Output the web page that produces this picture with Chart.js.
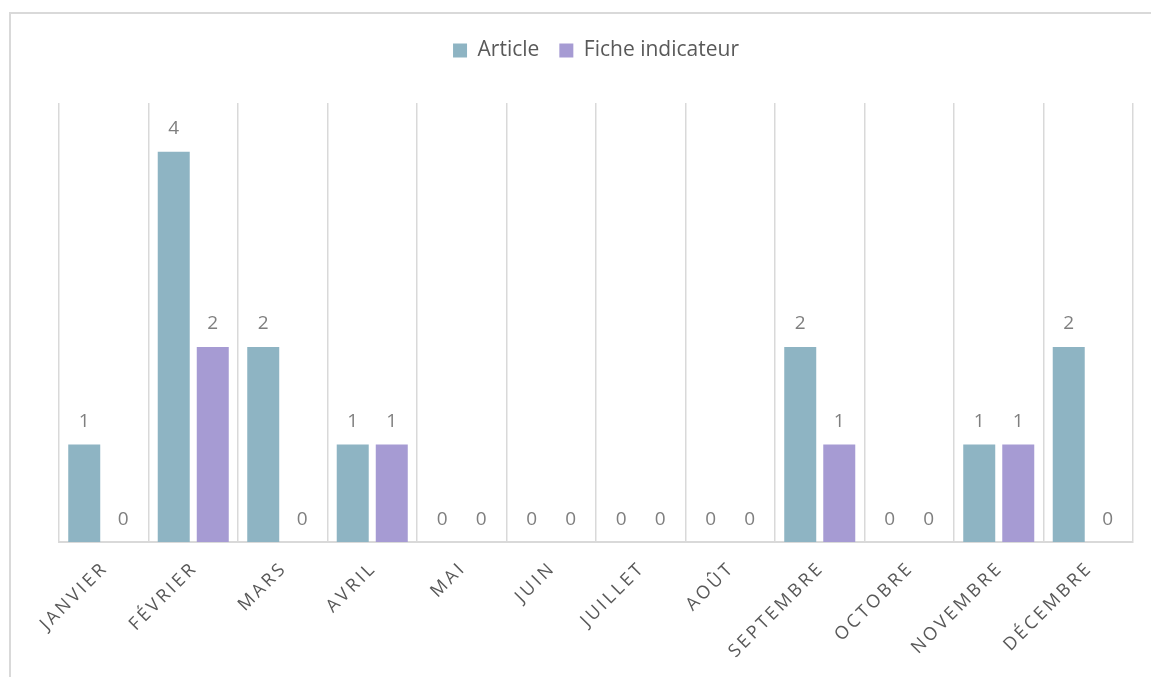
<!DOCTYPE html>
<html>
<head>
<meta charset="utf-8">
<script src="https://cdn.jsdelivr.net/npm/chart.js@4"></script>
<style>
  body { margin: 0; background: #fff; overflow: hidden; }
  #frame { position: absolute; left: 9px; top: 12px; width: 1200px; height: 720px;
           border-top: 2px solid #d9d9d9; border-left: 2px solid #d9d9d9; }
  #c { position: absolute; left: 0; top: 0; }
</style>
</head>
<body>
<div id="frame"></div>
<canvas id="c" width="1151" height="677"></canvas>
<script>
const mois = ['JANVIER','FÉVRIER','MARS','AVRIL','MAI','JUIN','JUILLET','AOÛT','SEPTEMBRE','OCTOBRE','NOVEMBRE','DÉCEMBRE']
const article = [1,4,2,1,0,0,0,0,2,0,1,2]
const fiche = [0,2,0,1,0,0,0,0,1,0,1,0]
const couleurs = ['#8eb4c3','#a69bd3']

// valeurs au-dessus des barres
const etiquettes = {
  id: 'etiquettes',
  afterDatasetsDraw(chart) {
    const ctx = chart.ctx
    ctx.save()
    ctx.font = '19px "Open Sans"'
    ctx.fillStyle = '#7f7f7f'
    ctx.textAlign = 'center'
    ctx.textBaseline = 'alphabetic'
    chart.data.datasets.forEach((ds, i) => {
      chart.getDatasetMeta(i).data.forEach((bar, j) => {
        ctx.fillText(String(ds.data[j]), bar.x, bar.y - 17.5)
      })
    })
    ctx.restore()
  }
}

// noms des mois, inclinés et espacés
const moisAxe = {
  id: 'moisAxe',
  afterDraw(chart) {
    const ctx = chart.ctx
    const x = chart.scales.x
    const sp = 3
    ctx.save()
    ctx.font = '18px "Open Sans"'
    ctx.letterSpacing = sp + 'px'
    ctx.fillStyle = '#595959'
    ctx.textAlign = 'left'
    ctx.textBaseline = 'alphabetic'
    mois.forEach((m, i) => {
      const w = ctx.measureText(m).width - sp
      ctx.save()
      ctx.translate(x.getPixelForTick(i) + 3, chart.chartArea.bottom + 29)
      ctx.rotate(-Math.PI / 4)
      ctx.fillText(m, -w, 0)
      ctx.restore()
    })
    ctx.restore()
  }
}

const chart = new Chart(document.getElementById('c'), {
  type: 'bar',
  data: {
    labels: mois,
    datasets: [
      { label: 'Article', data: article, backgroundColor: couleurs[0], borderWidth: 0,
        categoryPercentage: 0.872, barPercentage: 0.82 },
      { label: 'Fiche indicateur', data: fiche, backgroundColor: couleurs[1], borderWidth: 0,
        categoryPercentage: 0.872, barPercentage: 0.82 }
    ]
  },
  options: {
    responsive: false,
    animation: false,
    devicePixelRatio: 1,
    layout: { padding: { top: 20, left: 59, right: 18, bottom: 135 } },
    plugins: {
      legend: {
        position: 'top',
        labels: { boxWidth: 14, boxHeight: 14, padding: 20, color: '#595959',
                  font: { family: 'Open Sans', size: 21 } }
      },
      // espace vide entre la légende et le graphique
      title: { display: true, text: '', weight: 10, padding: { top: 22, bottom: 0 },
               font: { size: 10, lineHeight: 1 } },
      tooltip: { enabled: false }
    },
    scales: {
      x: {
        grid: { offset: true, color: '#d9d9d9', lineWidth: 1.5, drawTicks: false },
        border: { color: '#d9d9d9', width: 2 },
        ticks: { display: false }
      },
      y: { display: false, min: 0, max: 4.5 }
    }
  },
  plugins: [etiquettes, moisAxe]
})
</script>
</body>
</html>
